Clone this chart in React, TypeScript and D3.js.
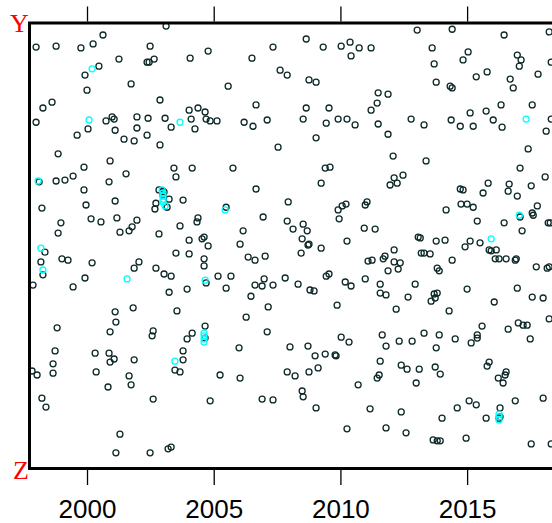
import React, { useEffect, useRef } from "react";
import * as d3 from "d3";

// [year, value] pairs; value on an arbitrary 0 (Z, bottom) .. 100 (Y, top) scale
const blackTop: [number, number][] = [
  [2003.12, 99.3], [2000.63, 97.3], [1997.99, 94.6], [1998.78, 94.8], [1999.76, 94.4], [2000.24, 95.3],
  [2002.49, 94.8], [2001.26, 91.9], [2000.47, 90.3], [1999.92, 88.3], [2002.37, 91.2], [2002.45, 91.2],
  [2002.65, 91.9], [2004.07, 92.1], [2001.74, 86.3], [2000.0, 84.9], [2002.88, 82.7], [1998.62, 82.2],
  [1998.26, 80.9], [1997.99, 77.7], [2000.04, 76.2], [1999.61, 74.8], [2000.75, 78.0], [2000.99, 78.9],
  [2001.07, 78.4], [2001.11, 75.9], [2001.97, 78.9], [2001.97, 76.4], [2002.41, 78.6], [2002.37, 74.8],
  [2003.08, 78.6], [2003.32, 76.6], [2004.03, 80.4], [2004.38, 80.9], [2004.66, 80.0], [2004.11, 78.4],
  [2004.70, 78.4], [2004.86, 78.0], [2004.26, 76.2], [2001.46, 73.9], [2001.86, 73.5], [2002.88, 72.6],
  [1998.86, 70.6], [2000.91, 69.0], [1999.88, 67.6], [2003.43, 67.4], [2004.15, 67.4],
  [2004.78, 93.7], [2006.51, 92.1], [2007.34, 94.6], [2008.65, 96.4], [2009.32, 94.6], [2010.03, 94.8],
  [2010.38, 95.7], [2010.74, 94.4], [2011.21, 94.4], [2010.42, 92.6], [2007.62, 89.4], [2007.90, 88.3],
  [2008.76, 87.2], [2009.04, 86.7], [2005.57, 85.8], [2011.49, 84.3], [2011.45, 82.0], [2011.21, 80.4],
  [2006.67, 81.6], [2008.65, 80.9], [2009.55, 80.9], [2005.13, 78.0], [2006.20, 77.7], [2006.55, 76.8],
  [2007.11, 78.2], [2008.53, 78.4], [2009.44, 77.5], [2009.91, 78.4], [2010.26, 78.4], [2010.58, 77.1],
  [2011.49, 77.3], [2009.04, 74.2], [2007.54, 72.1], [2005.76, 67.4], [2009.40, 67.4], [2009.59, 67.6],
  [2013.03, 98.4], [2014.41, 98.6], [2016.46, 97.3], [2018.24, 98.0], [2013.62, 94.4], [2015.04, 93.5],
  [2014.84, 91.7], [2013.70, 90.8], [2016.98, 92.8], [2017.13, 91.7], [2017.06, 90.3], [2018.32, 91.2],
  [2015.79, 89.0], [2015.36, 87.9], [2017.80, 88.5], [2016.70, 87.4], [2016.82, 85.4], [2013.78, 86.7],
  [2014.33, 85.8], [2014.41, 85.4], [2011.88, 84.0], [2016.34, 81.6], [2017.57, 81.6], [2015.12, 79.8],
  [2015.75, 80.2], [2012.79, 78.4], [2013.30, 77.1], [2014.37, 78.2], [2014.73, 76.8], [2015.24, 76.8],
  [2016.03, 78.2], [2016.38, 76.6], [2018.32, 78.4], [2011.88, 75.0], [2018.12, 75.7], [2012.08, 70.1],
  [2013.38, 69.0], [2017.41, 71.7], [2017.09, 67.4],
];

const blackMiddle: [number, number][] = [
  [1998.11, 64.3], [1998.78, 64.5], [1999.13, 64.7], [1999.45, 65.6], [2001.54, 66.1], [2000.87, 64.3],
  [1999.88, 62.5], [1999.96, 59.1], [2001.11, 60.0], [1998.22, 58.4], [2003.51, 65.4], [2002.84, 62.5],
  [2003.0, 62.2], [2003.04, 62.0], [2003.0, 61.3], [2003.24, 60.4], [2002.72, 59.5], [2002.68, 58.2],
  [2003.16, 58.6], [2003.79, 60.2], [1998.97, 55.1], [1998.86, 52.8], [2000.16, 56.0], [2000.55, 55.3],
  [2001.18, 56.2], [2001.97, 55.7], [2001.78, 54.2], [2001.66, 53.3], [2001.30, 53.0], [2002.84, 52.6],
  [2003.67, 54.4], [2004.38, 56.2], [2004.34, 55.3], [2004.03, 51.2], [2004.54, 51.5], [2004.62, 51.9],
  [1998.34, 48.5], [1998.18, 46.3], [1998.26, 43.4], [1999.01, 47.0], [1999.25, 46.7], [2000.20, 46.1],
  [2003.51, 48.3], [2004.03, 48.1], [2004.62, 47.0], [2004.62, 45.4], [2002.05, 46.3], [2001.86, 44.9],
  [2002.72, 44.9], [2003.04, 43.6], [2003.32, 43.1], [1999.92, 42.7], [2004.70, 41.6], [1997.87, 41.1],
  [1999.45, 40.7], [2003.24, 39.5], [2003.95, 40.2], [2001.82, 36.0], [2001.11, 35.1], [2003.55, 35.3],
  [2006.67, 62.7], [2009.24, 64.0], [2005.49, 58.6], [2007.94, 59.8], [2006.95, 56.4], [2007.90, 55.5],
  [2006.16, 53.3], [2008.13, 53.7], [2008.53, 54.8], [2008.69, 53.3], [2008.49, 51.5], [2008.76, 50.3],
  [2008.72, 50.1], [2008.45, 48.3], [2009.24, 49.4], [2006.04, 50.3], [2004.78, 49.9], [2006.36, 47.4],
  [2006.63, 46.7], [2007.03, 47.6], [2009.91, 58.0], [2010.07, 58.9], [2010.22, 59.3], [2009.95, 56.0],
  [2010.98, 59.1], [2011.05, 59.8], [2010.94, 53.9], [2011.37, 53.7], [2010.26, 51.0], [2011.09, 46.5],
  [2011.25, 46.7], [2005.17, 43.1], [2005.68, 43.1], [2005.49, 40.4], [2006.99, 42.5], [2006.63, 41.1],
  [2006.91, 40.9], [2007.34, 41.1], [2007.82, 42.7], [2008.33, 41.3], [2008.80, 40.0], [2008.96, 39.8],
  [2009.44, 43.1], [2009.55, 43.6], [2010.19, 41.8], [2010.42, 40.9], [2010.98, 42.5], [2011.57, 41.3],
  [2011.57, 39.3], [2006.47, 38.6], [2007.15, 36.2], [2009.87, 36.6], [2006.28, 33.9],
  [2012.12, 65.2], [2012.47, 65.8], [2011.96, 63.6], [2012.24, 64.0], [2014.73, 62.7], [2014.84, 62.5],
  [2015.83, 64.0], [2015.63, 61.8], [2016.66, 63.8], [2016.62, 62.2], [2016.98, 61.1], [2017.53, 63.4],
  [2018.08, 65.4], [2014.76, 59.3], [2015.0, 59.3], [2015.24, 58.6], [2014.17, 58.0], [2015.40, 55.5],
  [2016.46, 55.1], [2017.09, 56.4], [2017.57, 57.3], [2017.61, 56.8], [2017.77, 58.9], [2018.20, 55.1],
  [2018.28, 55.1], [2017.17, 53.3], [2013.07, 51.9], [2013.15, 51.7], [2013.78, 51.0], [2014.13, 51.2],
  [2015.12, 51.0], [2014.92, 49.7], [2015.51, 50.6], [2015.87, 49.0], [2015.95, 48.8], [2016.15, 49.0],
  [2016.11, 47.0], [2016.26, 47.0], [2016.54, 47.0], [2016.90, 46.7], [2016.94, 47.0], [2012.12, 49.0],
  [2011.76, 47.6], [2011.69, 47.0], [2012.12, 46.3], [2012.36, 46.1], [2011.88, 44.3], [2012.28, 44.7],
  [2013.19, 48.3], [2013.30, 48.3], [2013.54, 48.1], [2014.41, 46.7], [2013.82, 44.9], [2013.90, 44.3],
  [2017.73, 45.2], [2018.16, 44.9], [2018.24, 45.2], [2012.95, 41.3], [2011.80, 38.9], [2012.67, 38.4],
  [2013.70, 39.1], [2013.82, 39.3], [2013.74, 38.2], [2013.58, 37.5], [2015.0, 40.2], [2016.98, 40.4],
  [2017.57, 38.4], [2018.0, 38.2], [2016.07, 37.3], [2012.20, 35.7], [2014.29, 35.3], [2018.24, 33.5],
];

const blackBottom: [number, number][] = [
  [1998.82, 31.5], [2001.14, 32.8], [2000.91, 30.6], [2002.61, 30.8], [2002.57, 29.7], [2004.15, 30.3],
  [2003.95, 29.0], [2004.66, 31.9], [2004.66, 29.2], [1998.74, 26.3], [2000.32, 25.8], [2000.87, 25.8],
  [2001.07, 24.5], [2000.91, 23.8], [2001.86, 24.3], [2003.79, 26.3], [2003.79, 24.3], [2003.47, 22.0],
  [2003.67, 21.6], [1998.66, 23.4], [1998.66, 21.3], [1997.83, 21.8], [1998.03, 20.9], [2000.36, 21.6],
  [2001.66, 20.7], [2001.74, 18.7], [2000.83, 18.2], [2002.61, 15.5], [1998.22, 15.7], [1998.38, 13.7],
  [2001.30, 7.6], [2001.14, 3.4], [2002.49, 3.4], [2003.20, 4.3], [2003.32, 4.7],
  [2007.11, 30.6], [2006.0, 27.0], [2008.01, 27.2], [2008.72, 27.4], [2009.0, 25.2], [2009.40, 25.6],
  [2009.79, 25.4], [2009.83, 25.2], [2010.03, 29.4], [2010.34, 28.3], [2009.12, 22.5], [2008.76, 21.6],
  [2007.90, 21.6], [2008.21, 20.7], [2005.25, 20.9], [2006.04, 20.2], [2008.49, 17.3], [2008.53, 16.0],
  [2010.70, 18.7], [2011.45, 20.2], [2011.53, 20.9], [2011.57, 24.0], [2004.86, 15.1], [2006.91, 15.5],
  [2007.34, 15.3], [2009.04, 13.5], [2011.17, 13.3], [2010.26, 8.8],
  [2011.65, 29.9], [2011.80, 27.4], [2012.32, 28.5], [2012.83, 28.5], [2013.30, 30.3], [2013.90, 29.9],
  [2013.78, 27.0], [2014.53, 29.0], [2015.16, 28.1], [2015.40, 29.9], [2015.40, 29.2], [2015.59, 31.9],
  [2016.62, 31.2], [2017.02, 32.6], [2017.21, 32.1], [2017.37, 32.1], [2017.49, 29.0], [2012.40, 23.1],
  [2012.63, 22.2], [2013.11, 22.2], [2012.99, 19.1], [2013.74, 22.7], [2013.94, 21.1], [2015.87, 23.8],
  [2015.79, 22.9], [2016.23, 20.2], [2016.50, 20.9], [2016.54, 21.6], [2016.42, 19.1], [2015.08, 15.1],
  [2015.36, 14.2], [2014.61, 13.5], [2016.90, 15.1], [2018.0, 15.7], [2016.30, 13.5], [2016.26, 11.2],
  [2016.30, 11.5], [2015.75, 11.2], [2014.01, 11.2], [2012.40, 12.6], [2011.80, 9.0], [2012.59, 7.9],
  [2013.66, 6.3], [2013.82, 6.1], [2013.94, 6.1], [2014.96, 6.7], [2017.53, 5.4], [2018.32, 5.4],
];

const cyanPoints: [number, number][] = [
  [2000.20, 89.7], [2000.08, 78.2], [2003.67, 77.7], [2017.33, 78.4], [1998.07, 64.5], [1998.18, 49.4],
  [1998.26, 44.5], [2001.58, 42.5], [2004.66, 42.2], [2005.45, 58.0], [2015.95, 51.5], [2003.47, 24.0],
  [2002.96, 62.5], [2003.0, 61.8], [2003.0, 61.1], [2003.0, 60.4], [2003.0, 59.8], [2003.08, 58.9],
  [2004.62, 30.3], [2004.62, 29.7], [2004.62, 29.0], [2004.62, 28.3],
  [2016.26, 12.1], [2016.26, 11.5], [2016.26, 10.8],
  [2017.06, 56.8],
];

const tickYears = [2000, 2005, 2010, 2015];
const topLabel = "Y";
const bottomLabel = "Z";

const W = 552;
const H = 523;

export default function App() {
  const ref = useRef<SVGSVGElement>(null);

  useEffect(() => {
    document.body.style.margin = "0";
    const svg = d3.select(ref.current);
    svg.selectAll("*").remove();

    const left = 29.5;
    const top = 23;
    const bottom = 468.5;
    const x = d3.scaleLinear().domain([1997.75, 2018.35]).range([30, 552]);
    const y = d3.scaleLinear().domain([0, 100]).range([468, 23]);

    const blacks = [...blackTop, ...blackMiddle, ...blackBottom];

    svg
      .append("g")
      .selectAll("circle")
      .data(blacks)
      .join("circle")
      .attr("cx", (d) => x(d[0]))
      .attr("cy", (d) => y(d[1]))
      .attr("r", 3)
      .attr("fill", "none")
      .attr("stroke", "#0d2828")
      .attr("stroke-width", 1.3);

    svg
      .append("g")
      .selectAll("circle")
      .data(cyanPoints)
      .join("circle")
      .attr("cx", (d) => x(d[0]))
      .attr("cy", (d) => y(d[1]))
      .attr("r", 3)
      .attr("fill", "none")
      .attr("stroke", "#00ffff")
      .attr("stroke-width", 1.3);

    // frame (right side extends past the visible page)
    svg
      .append("path")
      .attr("d", `M${W + 40},${top} H${left} V${bottom} H${W + 40}`)
      .attr("fill", "none")
      .attr("stroke", "#000")
      .attr("stroke-width", 3);

    const topAxis = d3.axisTop(x).tickValues(tickYears).tickSize(15).tickFormat(() => "");
    const gTop = svg.append("g").attr("transform", `translate(0,${top - 1.5})`).call(topAxis);
    gTop.select(".domain").remove();
    gTop.selectAll("line").attr("stroke", "#000").attr("stroke-width", 1.3);

    const bottomAxis = d3.axisBottom(x).tickValues(tickYears).tickSize(15).tickPadding(14.5).tickFormat(d3.format("d"));
    const gBot = svg.append("g").attr("transform", `translate(0,${bottom + 1.5})`).call(bottomAxis);
    gBot.select(".domain").remove();
    gBot.selectAll("line").attr("stroke", "#000").attr("stroke-width", 1.3);
    gBot
      .selectAll("text")
      .attr("fill", "#000")
      .attr("font-size", 26)
      .attr("font-family", "'Liberation Sans', Arial, sans-serif");

    svg
      .append("text")
      .attr("x", 19.5)
      .attr("y", 32)
      .attr("text-anchor", "middle")
      .attr("font-family", "'Liberation Serif', 'Times New Roman', serif")
      .attr("font-size", 26)
      .attr("fill", "#ff0000")
      .text(topLabel);

    svg
      .append("text")
      .attr("x", 21)
      .attr("y", 479)
      .attr("text-anchor", "middle")
      .attr("font-family", "'Liberation Serif', 'Times New Roman', serif")
      .attr("font-size", 26)
      .attr("fill", "#ff0000")
      .text(bottomLabel);
  }, []);

  return <svg ref={ref} width={W} height={H} style={{ display: "block", background: "#fff" }} />;
}
